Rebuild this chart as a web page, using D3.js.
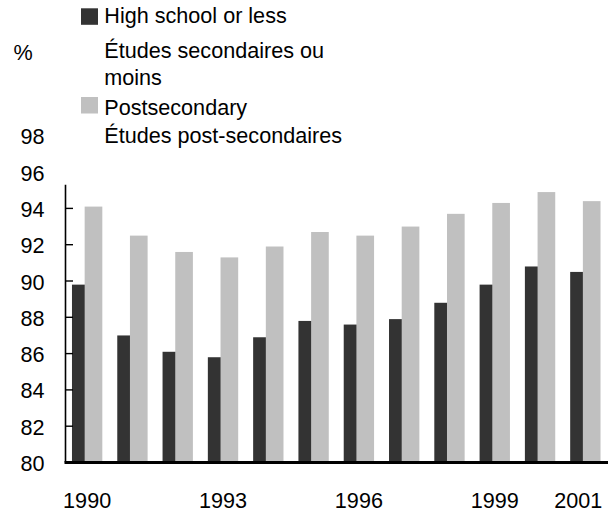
<!DOCTYPE html>
<html>
<head>
<meta charset="utf-8">
<script src="https://cdn.jsdelivr.net/npm/d3@7/dist/d3.min.js"></script>
<style>
  html, body { margin: 0; padding: 0; background: #ffffff; }
  svg { display: block; }
  text { font-family: "Liberation Sans", Arial, sans-serif; fill: #000; }
</style>
</head>
<body>
<svg id="chart" width="615" height="514"></svg>
<script>
const years = ["1990","1991","1992","1993","1994","1995","1996","1997","1998","1999","2000","2001"];
const highSchool = [89.8, 87.0, 86.1, 85.8, 86.9, 87.8, 87.6, 87.9, 88.8, 89.8, 90.8, 90.5];
const postSecondary = [94.1, 92.5, 91.6, 91.3, 91.9, 92.7, 92.5, 93.0, 93.7, 94.3, 94.9, 94.4];
const yTickLabels = [80, 82, 84, 86, 88, 90, 92, 94, 96, 98];
const yTickMarks = [82, 84, 86, 88, 90, 92, 94];
const xTickLabels = ["1990", "1993", "1996", "1999", "2001"];
const seriesNames = [
  ["High school or less", "Études secondaires ou", "moins"],
  ["Postsecondary", "Études post-secondaires"]
];
const seriesColors = ["#333333", "#c0c0c0"];
const axisTopValue = 95.3;

const svg = d3.select("#chart");
const fontSize = 21.6;

const plotLeft = 64.5, plotRight = 608;
const x = d3.scaleBand().domain(years).range([plotLeft, plotRight]).padding(0);
const y = d3.scaleLinear().domain([80, 98]).range([462.5, 462.5 - 18 * 18.15]);
const bw = x.bandwidth();
const barW = bw * 0.39;

// bars
const g = svg.append("g");
g.selectAll("rect.hs").data(years).join("rect")
  .attr("class", "hs")
  .attr("x", (d) => x(d) + bw / 2 - 0.335 * bw)
  .attr("width", barW)
  .attr("y", (d, i) => y(highSchool[i]))
  .attr("height", (d, i) => y(80) - y(highSchool[i]))
  .attr("fill", seriesColors[0]);
g.selectAll("rect.ps").data(years).join("rect")
  .attr("class", "ps")
  .attr("x", (d) => x(d) + bw / 2 - 0.055 * bw)
  .attr("width", barW)
  .attr("y", (d, i) => y(postSecondary[i]))
  .attr("height", (d, i) => y(80) - y(postSecondary[i]))
  .attr("fill", seriesColors[1]);

// y axis line
svg.append("line")
  .attr("x1", plotLeft + 1).attr("x2", plotLeft + 1)
  .attr("y1", y(80)).attr("y2", y(axisTopValue))
  .attr("stroke", "#000").attr("stroke-width", 1.6);
// y ticks (inside)
svg.selectAll("line.yt").data(yTickMarks).join("line")
  .attr("class", "yt")
  .attr("x1", plotLeft + 1).attr("x2", plotLeft + 8.5)
  .attr("y1", (d) => y(d)).attr("y2", (d) => y(d))
  .attr("stroke", "#000").attr("stroke-width", 1.4);
// y tick labels
svg.selectAll("text.yl").data(yTickLabels).join("text")
  .attr("class", "yl")
  .attr("x", 44.5)
  .attr("y", (d) => y(d) + 8.5)
  .attr("text-anchor", "end")
  .attr("font-size", fontSize)
  .text((d) => d);

// baseline
svg.append("line")
  .attr("x1", plotLeft).attr("x2", plotRight)
  .attr("y1", y(80)).attr("y2", y(80))
  .attr("stroke", "#000").attr("stroke-width", 3);

// x labels
svg.selectAll("text.xl").data(xTickLabels).join("text")
  .attr("class", "xl")
  .attr("x", (d, i) => x(d) + bw / 2 + (i === xTickLabels.length - 1 ? -7 : 0))
  .attr("y", 508.3)
  .attr("text-anchor", "middle")
  .attr("font-size", fontSize)
  .text((d) => d);

// % label
svg.append("text").attr("x", 23).attr("y", 60).attr("text-anchor", "middle")
  .attr("font-size", fontSize).text("%");

// legend
const legendX = 104.3;
const lineBaselines = [[23.3, 58, 85], [115, 143.3]];
const swatchY = [8.3, 97];
seriesNames.forEach((lines, si) => {
  svg.append("rect")
    .attr("x", 81).attr("y", swatchY[si])
    .attr("width", 17).attr("height", 16.5)
    .attr("fill", seriesColors[si]);
  lines.forEach((t, li) => {
    svg.append("text")
      .attr("x", legendX).attr("y", lineBaselines[si][li])
      .attr("font-size", fontSize)
      .text(t);
  });
});
</script>
</body>
</html>
